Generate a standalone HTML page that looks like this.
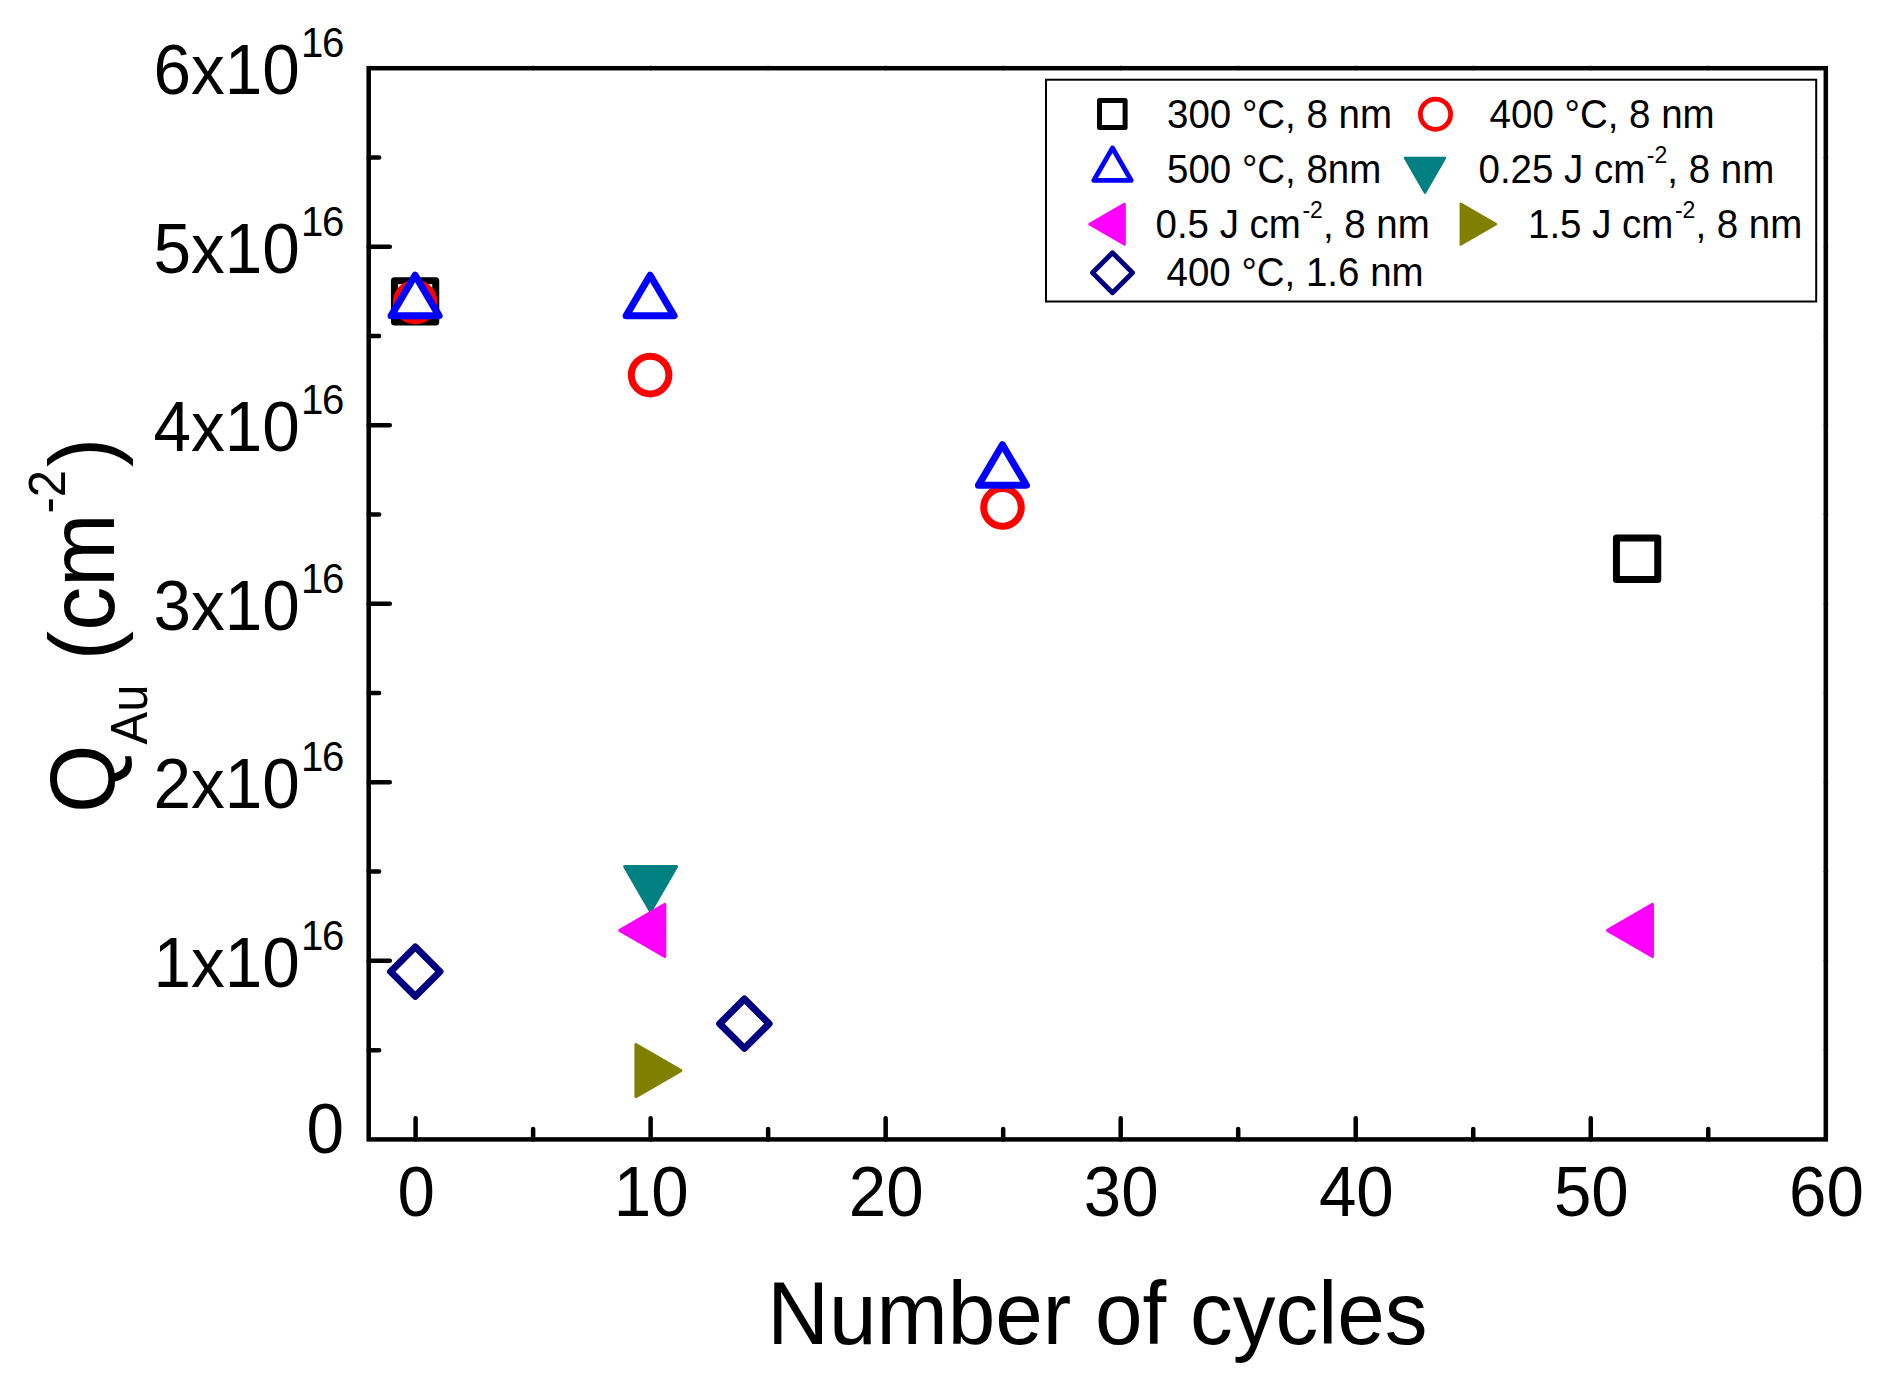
<!DOCTYPE html>
<html><head><meta charset="utf-8"><title>Q_Au vs Number of cycles</title>
<style>
html,body{margin:0;padding:0;background:#fff;}
svg{display:block;}
text{font-family:"Liberation Sans", sans-serif;fill:#000;}
</style></head>
<body>
<svg width="1898" height="1388" viewBox="0 0 1898 1388">
<rect x="0" y="0" width="1898" height="1388" fill="#fff"/>
<rect x="368.7" y="68.2" width="1457.1" height="1071.2" fill="none" stroke="#000" stroke-width="4.5" stroke-linejoin="miter"/>
<path d="M368.7 1050.13h10.4 M368.7 960.87h21.1 M368.7 871.60h10.4 M368.7 782.33h21.1 M368.7 693.07h10.4 M368.7 603.80h21.1 M368.7 514.53h10.4 M368.7 425.27h21.1 M368.7 336.00h10.4 M368.7 246.73h21.1 M368.7 157.47h10.4 M415.60 1139.4v-21.1 M533.12 1139.4v-10.4 M650.63 1139.4v-21.1 M768.14 1139.4v-10.4 M885.66 1139.4v-21.1 M1003.18 1139.4v-10.4 M1120.69 1139.4v-21.1 M1238.20 1139.4v-10.4 M1355.72 1139.4v-21.1 M1473.24 1139.4v-10.4 M1590.75 1139.4v-21.1 M1708.26 1139.4v-10.4" stroke="#000" stroke-width="4.5" stroke-linecap="round" fill="none"/>
<text transform="translate(344.00,1152.80) scale(1,1.045)" font-size="67.5px" text-anchor="end">0</text>
<text transform="translate(153.50,986.67) scale(1,1.045)" font-size="67.5px">1x10<tspan dx="1.2" font-size="40.2px" dy="-35.41" letter-spacing="-1.3">16</tspan></text>
<text transform="translate(153.50,808.13) scale(1,1.045)" font-size="67.5px">2x10<tspan dx="1.2" font-size="40.2px" dy="-35.41" letter-spacing="-1.3">16</tspan></text>
<text transform="translate(153.50,629.60) scale(1,1.045)" font-size="67.5px">3x10<tspan dx="1.2" font-size="40.2px" dy="-35.41" letter-spacing="-1.3">16</tspan></text>
<text transform="translate(153.50,451.07) scale(1,1.045)" font-size="67.5px">4x10<tspan dx="1.2" font-size="40.2px" dy="-35.41" letter-spacing="-1.3">16</tspan></text>
<text transform="translate(153.50,272.53) scale(1,1.045)" font-size="67.5px">5x10<tspan dx="1.2" font-size="40.2px" dy="-35.41" letter-spacing="-1.3">16</tspan></text>
<text transform="translate(153.50,94.00) scale(1,1.045)" font-size="67.5px">6x10<tspan dx="1.2" font-size="40.2px" dy="-35.41" letter-spacing="-1.3">16</tspan></text>
<text transform="translate(416.20,1215.80) scale(1,1.045)" font-size="67.3px" text-anchor="middle">0</text>
<text transform="translate(651.23,1215.80) scale(1,1.045)" font-size="67.3px" text-anchor="middle">10</text>
<text transform="translate(886.26,1215.80) scale(1,1.045)" font-size="67.3px" text-anchor="middle">20</text>
<text transform="translate(1121.29,1215.80) scale(1,1.045)" font-size="67.3px" text-anchor="middle">30</text>
<text transform="translate(1356.32,1215.80) scale(1,1.045)" font-size="67.3px" text-anchor="middle">40</text>
<text transform="translate(1591.35,1215.80) scale(1,1.045)" font-size="67.3px" text-anchor="middle">50</text>
<text transform="translate(1826.38,1215.80) scale(1,1.045)" font-size="67.3px" text-anchor="middle">60</text>
<text transform="translate(1097.40,1344.00) scale(1,1.045)" font-size="85.5px" text-anchor="middle">Number of cycles</text>
<text transform="translate(113.50,813.00) rotate(-90) scale(1,1.045)" font-size="88px">Q<tspan font-size="49px" dy="31.58">Au</tspan><tspan dy="-31.58"> (cm</tspan><tspan font-size="49px" dy="-46.89">-2</tspan><tspan dx="3" dy="46.89">)</tspan></text>
<path d="M533.12 65.3v5.8 M1822.8999999999999 1050.13h5.8 M650.63 65.3v5.8 M1822.8999999999999 960.87h5.8 M768.14 65.3v5.8 M1822.8999999999999 871.60h5.8 M885.66 65.3v5.8 M1822.8999999999999 782.33h5.8 M1003.18 65.3v5.8 M1822.8999999999999 693.07h5.8 M1120.69 65.3v5.8 M1822.8999999999999 603.80h5.8 M1238.20 65.3v5.8 M1822.8999999999999 514.53h5.8 M1355.72 65.3v5.8 M1822.8999999999999 425.27h5.8 M1473.24 65.3v5.8 M1822.8999999999999 336.00h5.8 M1590.75 65.3v5.8 M1822.8999999999999 246.73h5.8 M1708.26 65.3v5.8 M1822.8999999999999 157.47h5.8" stroke="#000" stroke-opacity="0.4" stroke-width="0.9" fill="none"/>
<rect x="394.45" y="280.75" width="41.3" height="41.3" fill="#fff" stroke="#000" stroke-width="7" stroke-linejoin="round"/>
<rect x="1616.45" y="538.10" width="41.3" height="41.3" fill="#fff" stroke="#000" stroke-width="7" stroke-linejoin="round"/>
<circle cx="415.20" cy="302.00" r="18.8" fill="#fff" stroke="#f00" stroke-width="7"/>
<circle cx="650.10" cy="375.10" r="18.8" fill="#fff" stroke="#f00" stroke-width="7"/>
<circle cx="1002.50" cy="507.40" r="18.8" fill="#fff" stroke="#f00" stroke-width="7"/>
<polygon points="415.10,275.16 439.10,315.86 391.10,315.86" fill="#fff" stroke="#00f" stroke-width="7" stroke-linejoin="round"/>
<polygon points="650.10,275.16 674.10,315.86 626.10,315.86" fill="#fff" stroke="#00f" stroke-width="7" stroke-linejoin="round"/>
<polygon points="1002.40,444.66 1026.40,485.36 978.40,485.36" fill="#fff" stroke="#00f" stroke-width="7" stroke-linejoin="round"/>
<polygon points="650.60,911.62 624.60,866.59 676.60,866.59" fill="#008080" stroke="#008080" stroke-width="3" stroke-linejoin="round"/>
<polygon points="619.78,930.40 664.81,904.40 664.81,956.40" fill="#f0f" stroke="#f0f" stroke-width="3" stroke-linejoin="round"/>
<polygon points="1607.48,930.40 1652.51,904.40 1652.51,956.40" fill="#f0f" stroke="#f0f" stroke-width="3" stroke-linejoin="round"/>
<polygon points="680.92,1070.60 635.89,1096.60 635.89,1044.60" fill="#808000" stroke="#808000" stroke-width="3" stroke-linejoin="round"/>
<polygon points="415.30,946.90 440.00,971.60 415.30,996.30 390.60,971.60" fill="#fff" stroke="#000080" stroke-width="7" stroke-linejoin="round"/>
<polygon points="744.40,999.00 769.10,1023.70 744.40,1048.40 719.70,1023.70" fill="#fff" stroke="#000080" stroke-width="7" stroke-linejoin="round"/>
<rect x="1046" y="79.7" width="770.2" height="221.8" fill="#fff" stroke="#000" stroke-width="2"/>
<rect x="1099.5" y="100.4" width="25.6" height="27.1" fill="#fff" stroke="#000" stroke-width="5" stroke-linejoin="round"/>
<circle cx="1435.50" cy="114.20" r="15.1" fill="#fff" stroke="#f00" stroke-width="4.8"/>
<polygon points="1112.50,147.95 1131.25,180.43 1093.75,180.43" fill="#fff" stroke="#00f" stroke-width="4.8" stroke-linejoin="round"/>
<polygon points="1425.00,192.59 1405.00,157.95 1445.00,157.95" fill="#008080" stroke="#008080" stroke-width="2.5" stroke-linejoin="round"/>
<polygon points="1089.52,224.20 1124.59,203.95 1124.59,244.45" fill="#f0f" stroke="#f0f" stroke-width="2.5" stroke-linejoin="round"/>
<polygon points="1495.88,224.10 1460.81,244.35 1460.81,203.85" fill="#808000" stroke="#808000" stroke-width="2.5" stroke-linejoin="round"/>
<polygon points="1112.50,252.70 1132.50,272.70 1112.50,292.70 1092.50,272.70" fill="#fff" stroke="#000080" stroke-width="4.8" stroke-linejoin="round"/>
<text transform="translate(1167.00,128.40) scale(1,1.045)" font-size="38.5px">300 °C, 8 nm</text>
<text transform="translate(1489.60,128.40) scale(1,1.045)" font-size="38.5px">400 °C, 8 nm</text>
<text transform="translate(1167.00,182.80) scale(1,1.045)" font-size="38.5px">500 °C, 8nm</text>
<text transform="translate(1478.50,182.80) scale(1,1.045)" font-size="38.5px">0.25 J cm<tspan dx="1.5" font-size="23px" dy="-19.14">-2</tspan><tspan dy="19.14">, 8 nm</tspan></text>
<text transform="translate(1155.50,238.00) scale(1,1.045)" font-size="38.5px">0.5 J cm<tspan dx="1.5" font-size="23px" dy="-19.14">-2</tspan><tspan dy="19.14">, 8 nm</tspan></text>
<text transform="translate(1528.00,238.00) scale(1,1.045)" font-size="38.5px">1.5 J cm<tspan dx="1.5" font-size="23px" dy="-19.14">-2</tspan><tspan dy="19.14">, 8 nm</tspan></text>
<text transform="translate(1166.50,285.60) scale(1,1.045)" font-size="38.5px">400 °C, 1.6 nm</text>
</svg>
</body></html>
